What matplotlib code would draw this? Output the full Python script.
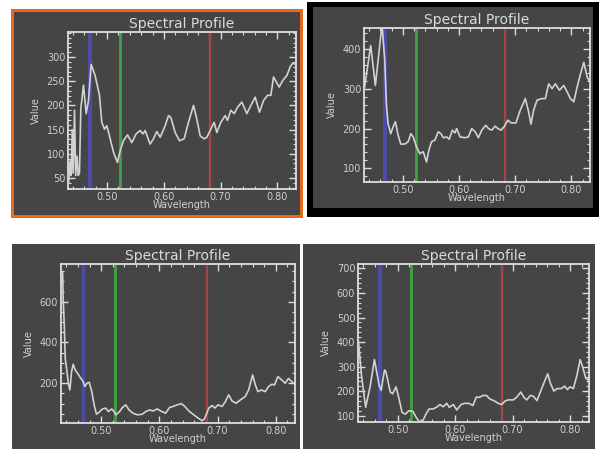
import matplotlib
matplotlib.use("Agg")
import matplotlib.pyplot as plt
from matplotlib.patches import Rectangle
from matplotlib.ticker import MultipleLocator, AutoMinorLocator

# ---------------- data ----------------
band_blue = 0.469
band_green = 0.523
band_red = 0.682

x_ticks = [0.50, 0.60, 0.70, 0.80]
x_tick_labels = ["0.50", "0.60", "0.70", "0.80"]

p1_wl = [0.432, 0.4347, 0.4365, 0.4385, 0.4400, 0.4425, 0.4445, 0.4470, 0.4490, 0.4512,
         0.4536, 0.4583, 0.4630, 0.4671, 0.4718, 0.4788, 0.4865, 0.4906, 0.4953, 0.4994,
         0.5041, 0.5112, 0.5182, 0.5229, 0.5288, 0.5359, 0.5435, 0.5511, 0.5582, 0.5629,
         0.5670, 0.5758, 0.5817, 0.5876, 0.5935, 0.6023, 0.6082, 0.6123, 0.6199, 0.6276,
         0.6358, 0.6434, 0.6523, 0.6581, 0.6640, 0.6711, 0.6758, 0.6828, 0.6887, 0.6934,
         0.7005, 0.7081, 0.7122, 0.7181, 0.7240, 0.7299, 0.7375, 0.7463, 0.7534, 0.7610,
         0.7687, 0.7757, 0.7828, 0.7887, 0.7934, 0.8033, 0.8098, 0.8169, 0.8228, 0.8275,
         0.8316]
p1_val = [40, 85, 55, 150, 60, 190, 55, 95, 55, 60,
          193, 242, 183, 210, 285, 262, 221, 165, 151, 158,
          137, 103, 82, 106, 127, 139, 123, 141, 148, 141,
          148, 120, 131, 146, 134, 158, 179, 175, 144, 127,
          131, 165, 200, 172, 137, 131, 134, 151, 165, 144,
          165, 179, 169, 190, 183, 196, 207, 183, 200, 217,
          186, 210, 221, 221, 259, 238, 252, 262, 280, 288,
          285]
p1_yticks = [50, 100, 150, 200, 250, 300]

p2_wl = [0.4321, 0.4429, 0.4512, 0.4619, 0.4637, 0.4679, 0.4708, 0.4738, 0.4786, 0.4827,
         0.4869, 0.4917, 0.4964, 0.5036, 0.5095, 0.5143, 0.5185, 0.5244, 0.5304, 0.5363,
         0.5423, 0.5464, 0.5512, 0.5571, 0.5631, 0.5679, 0.5720, 0.5780, 0.5827, 0.5881,
         0.5929, 0.5958, 0.6018, 0.6107, 0.6167, 0.6226, 0.6286, 0.6345, 0.6405, 0.6476,
         0.6524, 0.6583, 0.6643, 0.6690, 0.6750, 0.6810, 0.6869, 0.6929, 0.7012, 0.7089,
         0.7179, 0.7238, 0.7280, 0.7327, 0.7387, 0.7464, 0.7536, 0.7595, 0.7655, 0.7714,
         0.7786, 0.7863, 0.7923, 0.7982, 0.8042, 0.8101, 0.8161, 0.8220, 0.8280, 0.8310]
p2_val = [304, 408, 308, 446, 450, 371, 262, 212, 187, 204,
          217, 183, 161, 161, 167, 187, 179, 154, 137, 142,
          116, 146, 167, 171, 192, 187, 177, 179, 173, 196,
          189, 200, 179, 177, 179, 200, 192, 177, 196, 208,
          200, 196, 206, 200, 196, 206, 221, 214, 214, 246,
          275, 242, 211, 246, 271, 275, 275, 312, 300, 312,
          296, 308, 292, 275, 267, 304, 337, 366, 329, 321]
p2_yticks = [100, 200, 300, 400]

p3_wl = [0.4337, 0.4349, 0.4366, 0.4383, 0.4406, 0.4440, 0.4463, 0.4491, 0.4520, 0.4554,
         0.4594, 0.4651, 0.4691, 0.4720, 0.4754, 0.4794, 0.4839, 0.4879, 0.4919, 0.4965,
         0.5022, 0.5079, 0.5125, 0.5182, 0.5222, 0.5250, 0.5307, 0.5365, 0.5422, 0.5479,
         0.5547, 0.5621, 0.5707, 0.5764, 0.5833, 0.5890, 0.5964, 0.6021, 0.6107, 0.6175,
         0.6232, 0.6306, 0.6380, 0.6438, 0.6506, 0.6592, 0.6666, 0.6734, 0.6774, 0.6803,
         0.6849, 0.6906, 0.6951, 0.7008, 0.7077, 0.7134, 0.7191, 0.7248, 0.7317, 0.7391,
         0.7476, 0.7533, 0.7602, 0.7648, 0.7693, 0.7750, 0.7819, 0.7876, 0.7933, 0.7979,
         0.8036, 0.8104, 0.8161, 0.8218, 0.8275, 0.8304]
p3_val = [747, 600, 486, 322, 273, 192, 167, 257, 293, 265,
          249, 224, 208, 184, 200, 205, 159, 94, 48, 58,
          74, 78, 61, 74, 61, 45, 58, 81, 94, 69,
          53, 45, 48, 61, 69, 64, 74, 64, 53, 81,
          86, 94, 100, 86, 64, 45, 29, 16, 25, 45,
          78, 91, 78, 94, 86, 110, 143, 113, 102, 118,
          135, 167, 241, 192, 159, 167, 159, 184, 195, 192,
          233, 216, 200, 224, 208, 200]
p3_yticks = [200, 400, 600]

p4_wl = [0.4314, 0.4373, 0.4443, 0.4520, 0.4596, 0.4678, 0.4713, 0.4772, 0.4795, 0.4872,
         0.4913, 0.4971, 0.5018, 0.5077, 0.5136, 0.5194, 0.5265, 0.5324, 0.5382, 0.5441,
         0.5500, 0.5547, 0.5617, 0.5676, 0.5734, 0.5793, 0.5852, 0.5899, 0.5969, 0.6028,
         0.6104, 0.6163, 0.6239, 0.6309, 0.6368, 0.6427, 0.6485, 0.6544, 0.6603, 0.6673,
         0.6750, 0.6808, 0.6867, 0.6926, 0.7014, 0.7072, 0.7143, 0.7201, 0.7248, 0.7307,
         0.7366, 0.7424, 0.7495, 0.7554, 0.7612, 0.7659, 0.7718, 0.7777, 0.7847, 0.7906,
         0.7953, 0.8000, 0.8058, 0.8117, 0.8176, 0.8217, 0.8275, 0.8316]
p4_val = [412, 260, 135, 218, 329, 225, 204, 287, 280, 197,
          190, 218, 176, 114, 107, 121, 118, 93, 76, 82,
          110, 128, 128, 135, 146, 137, 151, 135, 146, 124,
          146, 151, 151, 142, 176, 176, 183, 183, 169, 162,
          151, 146, 160, 165, 165, 176, 197, 174, 165, 183,
          179, 162, 204, 239, 271, 232, 201, 211, 211, 221,
          207, 218, 211, 262, 329, 301, 253, 246]
p4_yticks = [100, 200, 300, 400, 500, 600, 700]

# ---------------- style / layout ----------------
W, H = 602, 449
BG = "#454545"
FG = "#dedede"
CURVE = "#d2d2d2"

fig = plt.figure(figsize=(W / 100, H / 100), dpi=100)
fig.patch.set_facecolor("white")


def frac(x0, y0, x1, y1):
    return [x0 / W, 1 - y1 / H, (x1 - x0) / W, (y1 - y0) / H]


def rect(x0, y0, x1, y1, color, z=0):
    l, b, w, h = frac(x0, y0, x1, y1)
    fig.add_artist(Rectangle((l, b), w, h, transform=fig.transFigure,
                             facecolor=color, edgecolor="none", zorder=z))


# panel backgrounds / frames
rect(11, 9, 303, 218, "#e8681e")          # orange frame
rect(14, 12, 300, 215, BG)
rect(307, 2, 599, 217, "#000000")         # black frame
rect(313, 7, 593, 208, BG)
rect(12, 244, 300, 449, BG)
rect(303, 244, 595, 449, BG)

panels = [
    (p1_wl, p1_val, p1_yticks, (27, 352), 10, (68, 32, 296, 189), 3.0),
    (p2_wl, p2_val, p2_yticks, (66, 452), 20, (364, 28, 590, 182), 3.0),
    (p3_wl, p3_val, p3_yticks, (5, 785), 50, (61, 264, 295, 423), 2.4),
    (p4_wl, p4_val, p4_yticks, (75, 718), 20, (358, 264, 589, 422), 3.0),
]

for wl, val, yt, ylim, yminor, box, blue_w in panels:
    ax = fig.add_axes(frac(*box))
    ax.set_facecolor(BG)
    ax.axvline(band_blue, color="#4c4ca6", lw=blue_w, zorder=2)
    ax.axvline(band_green, color="#3fa43f", lw=2.0, zorder=2)
    ax.axvline(band_red, color="#a84444", lw=1.7, zorder=2)
    ax.plot(wl, val, color=CURVE, lw=1.2, zorder=3)
    ax.set_xlim(0.431, 0.833)
    ax.set_ylim(*ylim)
    ax.set_xticks(x_ticks)
    ax.set_xticklabels(x_tick_labels)
    ax.xaxis.set_minor_locator(AutoMinorLocator(5))
    ax.set_yticks(yt)
    ax.yaxis.set_minor_locator(MultipleLocator(yminor))
    for s in ax.spines.values():
        s.set_color(FG)
        s.set_linewidth(1.3)
    ax.tick_params(which="both", direction="in", top=True, right=True,
                   color=FG, labelcolor="#d0d0d0", labelsize=7, pad=2)
    ax.tick_params(which="major", length=5, width=1.0)
    ax.tick_params(which="minor", length=2.5, width=0.8)
    ax.set_title("Spectral Profile", fontsize=10, color="#dadada", pad=3)
    ax.set_xlabel("Wavelength", fontsize=7, color="#d0d0d0", labelpad=-1)
    ax.set_ylabel("Value", fontsize=7, color="#d0d0d0", labelpad=4)

fig.savefig("out.png", dpi=100, facecolor="white")
